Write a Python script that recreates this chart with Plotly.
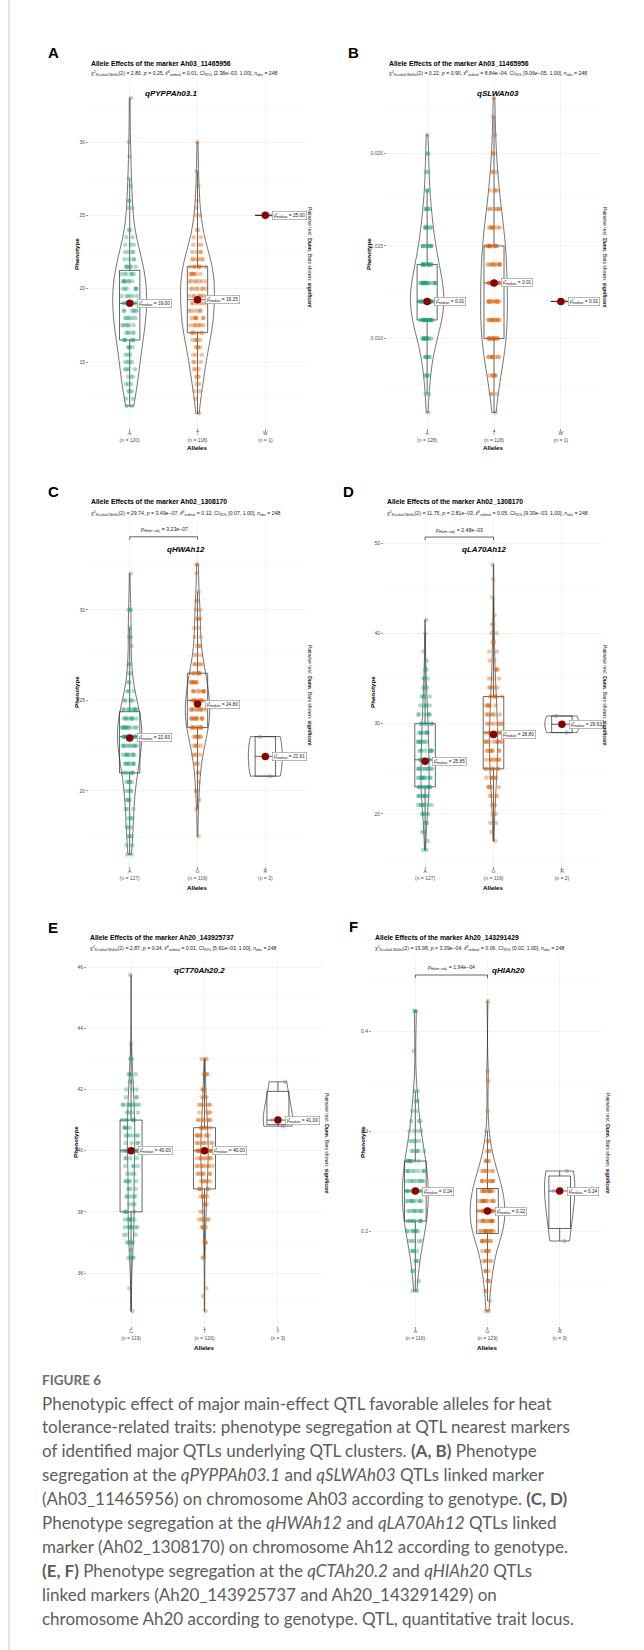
import numpy as np
import plotly.graph_objects as go

W, H = 644, 1650

# ---------------- data ----------------
# (A) qPYPPAh03.1, marker Ah03_11465956
pA_alleles = ["A", "T", "W"]
pA_n = [120, 118, 1]
pA_A_levels = [12, 12.5, 13, 13.5, 14, 14.5, 15, 15.5, 16, 16.5, 17, 17.5, 18, 18.5, 19, 19.5, 20, 20.5,
               21, 21.5, 22, 22.5, 23, 23.5, 24, 25.5, 26, 27, 27.5, 29, 30, 33]
pA_A_counts = [2, 2, 3, 3, 3, 4, 4, 3, 4, 6, 5, 6, 6, 6, 8, 6, 6, 7, 6, 6, 4, 4, 3, 2, 2, 2, 2, 1, 1, 1, 1, 1]
pA_T_levels = [11.5, 12.5, 13, 13.5, 14, 14.5, 15, 15.5, 16, 16.5, 17, 17.5, 18, 18.5, 19, 19.5, 20, 20.5,
               21, 21.5, 22, 22.5, 23, 23.5, 24, 25, 25.5, 26, 27, 28, 30]
pA_T_counts = [1, 1, 2, 2, 3, 3, 3, 3, 4, 5, 6, 7, 7, 6, 6, 7, 7, 7, 7, 7, 6, 4, 3, 2, 2, 2, 1, 1, 1, 1, 1]
pA_W_values = [25.0]
pA_medians = [19.00, 19.25, 25.00]

# (B) qSLWAh03, marker Ah03_11465956
pB_alleles = ["A", "T", "W"]
pB_n = [128, 118, 1]
pB_A_levels = [0.006, 0.007, 0.008, 0.009, 0.010, 0.011, 0.012, 0.013, 0.014, 0.015, 0.016, 0.017, 0.018,
               0.019, 0.020, 0.021]
pB_A_counts = [1, 2, 4, 6, 12, 18, 22, 19, 14, 10, 7, 5, 3, 2, 2, 1]
pB_T_levels = [0.006, 0.007, 0.008, 0.009, 0.010, 0.011, 0.012, 0.013, 0.014, 0.015, 0.016, 0.017, 0.018,
               0.019, 0.020, 0.021, 0.022, 0.023]
pB_T_counts = [1, 3, 6, 9, 13, 12, 12, 12, 11, 12, 8, 7, 4, 3, 2, 1, 1, 1]
pB_W_values = [0.012]
pB_medians = [0.012, 0.013, 0.012]

# (C) qHWAh12, marker Ah02_1308170
pC_alleles = ["A", "G", "R"]
pC_n = [127, 119, 2]
pC_A_levels = [16.5, 17, 17.5, 18, 18.5, 19, 19.5, 20, 20.5, 21, 21.5, 22, 22.5, 23, 23.5, 24, 24.5, 25,
               25.5, 26, 26.5, 27, 28, 28.5, 29, 30, 32]
pC_A_counts = [2, 2, 3, 3, 3, 3, 4, 4, 5, 6, 8, 9, 10, 12, 12, 9, 10, 5, 3, 2, 2, 2, 1, 2, 1, 3, 1]
pC_G_levels = [17.5, 19, 19.5, 20, 20.5, 21, 21.5, 22, 22.5, 23, 23.5, 24, 24.5, 25, 25.5, 26, 26.5, 27,
               27.5, 28, 28.5, 29, 29.5, 30, 30.5, 31, 32, 32.5]
pC_G_counts = [1, 1, 1, 2, 1, 2, 3, 4, 5, 7, 10, 11, 11, 10, 9, 8, 7, 5, 3, 3, 2, 2, 3, 2, 2, 1, 1, 2]
pC_R_values = [20.82, 23.0]
pC_medians = [22.93, 24.80, 21.91]
pC_bracket = dict(pair=("A", "G"), y=34.03, p="3.23e−07")

# (D) qLA70Ah12, marker Ah02_1308170
pD_alleles = ["A", "G", "R"]
pD_n = [127, 119, 2]
pD_A_levels = [16, 17, 18, 19, 20, 21, 22, 23, 24, 25, 26, 27, 28, 29, 30, 31, 32, 33, 34, 35, 36, 37, 38,
               40, 41.5]
pD_A_counts = [2, 1, 2, 3, 5, 8, 9, 10, 11, 10, 8, 8, 8, 8, 7, 6, 5, 4, 3, 3, 2, 1, 1, 1, 1]
pD_G_levels = [17, 18, 19, 20, 21, 22, 23, 24, 25, 26, 27, 28, 29, 30, 31, 32, 33, 34, 35, 36, 37, 38, 39,
               40, 41, 42, 44, 46, 47.6]
pD_G_counts = [1, 1, 2, 2, 3, 4, 5, 6, 8, 8, 8, 10, 9, 8, 7, 6, 6, 5, 3, 3, 2, 2, 2, 2, 2, 1, 1, 1, 1]
pD_R_values = [29.01, 30.85]
pD_medians = [25.85, 28.80, 29.93]
pD_bracket = dict(pair=("A", "G"), y=50.66, p="2.48e−03")

# (E) qCT70Ah20.2, marker Ah20_143925737
pE_alleles = ["C", "T", "Y"]
pE_n = [119, 126, 3]
pE_C_levels = [34.75, 35.5, 36.5, 36.75, 37, 37.25, 37.5, 37.75, 38, 38.25, 38.5, 38.75, 39, 39.25, 39.5,
               39.75, 40, 40.25, 40.5, 40.75, 41, 41.25, 41.5, 41.75, 42, 42.25, 42.5, 43, 43.5, 45.75]
pE_C_counts = [1, 1, 4, 1, 5, 3, 7, 6, 4, 3, 5, 3, 5, 3, 4, 4, 10, 4, 6, 5, 6, 4, 9, 3, 3, 2, 4, 2, 1, 1]
pE_T_levels = [34.75, 35.25, 35.5, 36.5, 37, 37.5, 37.75, 38, 38.25, 38.5, 38.75, 39, 39.25, 39.5, 39.75,
               40, 40.25, 40.5, 40.75, 41, 41.25, 41.5, 41.75, 42, 42.5, 43]
pE_T_counts = [1, 1, 1, 2, 3, 4, 5, 2, 3, 6, 5, 6, 7, 8, 8, 12, 8, 8, 6, 7, 4, 6, 3, 3, 4, 3]
pE_Y_values = [40.8, 41.0, 42.25]
pE_medians = [40.00, 40.00, 41.00]

# (F) qHIAh20, marker Ah20_143291429
pF_alleles = ["A", "G", "R"]
pF_n = [116, 129, 3]
pF_A_levels = [0.14, 0.15, 0.16, 0.17, 0.18, 0.19, 0.20, 0.21, 0.22, 0.23, 0.24, 0.25, 0.26, 0.27, 0.28,
               0.29, 0.30, 0.31, 0.32, 0.33, 0.34, 0.38, 0.42]
pF_A_counts = [2, 1, 2, 3, 4, 5, 8, 8, 9, 10, 10, 9, 9, 8, 6, 5, 4, 3, 2, 2, 2, 1, 3]
pF_G_levels = [0.12, 0.13, 0.14, 0.15, 0.16, 0.17, 0.18, 0.19, 0.20, 0.21, 0.22, 0.23, 0.24, 0.25, 0.26,
               0.27, 0.28, 0.29, 0.30, 0.32, 0.35, 0.36, 0.43]
pF_G_counts = [2, 1, 2, 3, 4, 5, 6, 9, 13, 13, 14, 13, 12, 10, 7, 5, 3, 2, 1, 1, 1, 1, 1]
pF_R_values = [0.19, 0.24, 0.26]
pF_medians = [0.24, 0.22, 0.24]
pF_bracket = dict(pair=("A", "G"), y=0.456, p="1.94e−04")

markers = {"A": "Ah03_11465956", "B": "Ah03_11465956", "C": "Ah02_1308170",
           "D": "Ah02_1308170", "E": "Ah20_143925737", "F": "Ah20_143291429"}
qtl_names = {"A": "qPYPPAh03.1", "B": "qSLWAh03", "C": "qHWAh12", "D": "qLA70Ah12",
             "E": "qCT70Ah20.2", "F": "qHIAh20"}
stats = {  # chi2, p, epsilon2, CI low, CI high
    "A": ("2.80", "0.25", "0.01", "2.38e−03", "1.00"),
    "B": ("0.22", "0.90", "8.84e−04", "9.06e−05", "1.00"),
    "C": ("29.74", "3.49e−07", "0.12", "0.07", "1.00"),
    "D": ("11.75", "2.81e−03", "0.05", "9.30e−03", "1.00"),
    "E": ("2.87", "0.24", "0.01", "5.61e−03", "1.00"),
    "F": ("15.98", "3.39e−04", "0.06", "0.02", "1.00"),
}
n_obs = 248

caption_lines = [
    "Phenotypic effect of major main-effect QTL favorable alleles for heat",
    "tolerance-related traits: phenotype segregation at QTL nearest markers",
    "of identified major QTLs underlying QTL clusters. <b>(A, B)</b> Phenotype",
    "segregation at the <i>qPYPPAh03.1</i> and <i>qSLWAh03</i> QTLs linked marker",
    "(Ah03_11465956) on chromosome Ah03 according to genotype. <b>(C, D)</b>",
    "Phenotype segregation at the <i>qHWAh12</i> and <i>qLA70Ah12</i> QTLs linked",
    "marker (Ah02_1308170) on chromosome Ah12 according to genotype.",
    "<b>(E, F)</b> Phenotype segregation at the <i>qCTAh20.2</i> and <i>qHIAh20</i> QTLs",
    "linked markers (Ah20_143925737 and Ah20_143291429) on",
    "chromosome Ah20 according to genotype. QTL, quantitative trait locus.",
]


def expand(levels, counts):
    return np.repeat(np.array(levels, dtype=float), counts)


groups = {
    "A": [expand(pA_A_levels, pA_A_counts), expand(pA_T_levels, pA_T_counts), np.array(pA_W_values)],
    "B": [expand(pB_A_levels, pB_A_counts), expand(pB_T_levels, pB_T_counts), np.array(pB_W_values)],
    "C": [expand(pC_A_levels, pC_A_counts), expand(pC_G_levels, pC_G_counts), np.array(pC_R_values)],
    "D": [expand(pD_A_levels, pD_A_counts), expand(pD_G_levels, pD_G_counts), np.array(pD_R_values)],
    "E": [expand(pE_C_levels, pE_C_counts), expand(pE_T_levels, pE_T_counts), np.array(pE_Y_values)],
    "F": [expand(pF_A_levels, pF_A_counts), expand(pF_G_levels, pF_G_counts), np.array(pF_R_values)],
}
alleles = {"A": pA_alleles, "B": pB_alleles, "C": pC_alleles, "D": pD_alleles, "E": pE_alleles, "F": pF_alleles}
ns = {"A": pA_n, "B": pB_n, "C": pC_n, "D": pD_n, "E": pE_n, "F": pF_n}
medians = {"A": pA_medians, "B": pB_medians, "C": pC_medians, "D": pD_medians, "E": pE_medians, "F": pF_medians}
brackets = {"C": pC_bracket, "D": pD_bracket, "F": pF_bracket}
for k in groups:
    assert [len(g) for g in groups[k]] == ns[k], (k, [len(g) for g in groups[k]])

# ---------------- layout geometry (pixels) ----------------
layout_px = {
    "A": dict(x=(89, 306), y=(80, 428), yr=(10.5, 34.23), dt=5, mn=2.5, fmt=None),
    "B": dict(x=(387, 601), y=(80, 428), yr=(0.00516, 0.02397), dt=0.005, mn=0.0025, fmt=".3f"),
    "C": dict(x=(89, 306), y=(521, 866), yr=(15.86, 34.9), dt=5, mn=2.5, fmt=None),
    "D": dict(x=(384, 603), y=(518, 866), yr=(14.24, 52.77), dt=10, mn=5, fmt=None),
    "E": dict(x=(87, 322), y=(957, 1326), yr=(34.27, 46.33), dt=2, mn=1, fmt=None),
    "F": dict(x=(372, 603), y=(957, 1326), yr=(0.105, 0.474), dt=0.1, mn=0.05, fmt=".1f"),
}
violin_w = {"A": [0.5, 0.5, 0], "B": [0.5, 0.4, 0], "C": [0.36, 0.36, 0.5],
            "D": [0.12, 0.12, 0.5], "E": [0.1, 0.1, 0.4], "F": [0.36, 0.48, 0.42]}
text_pos = {
    "A": dict(L=(53, 53), tx=89, ty=63, sy=74, q=(171, 93), ph=(76, 254), al=448, pw=(310, 257)),
    "B": dict(L=(353, 53), tx=387, ty=63, sy=74, q=(498, 93), ph=(368, 254), al=448, pw=(605, 257)),
    "C": dict(L=(53, 492), tx=89, ty=502, sy=513, q=(186, 549), ph=(76, 692), al=887, pw=(310, 695)),
    "D": dict(L=(348, 492), tx=385, ty=502, sy=513, q=(484, 549), ph=(372, 692), al=887, pw=(605, 695)),
    "E": dict(L=(53, 928), tx=88, ty=937, sy=948, q=(200, 970), ph=(75, 1142), al=1347, pw=(327, 1143)),
    "F": dict(L=(353, 927), tx=373, ty=937, sy=948, q=(508, 970), ph=(362, 1142), al=1347, pw=(608, 1143)),
}

pt_colors = ["rgba(27,158,119,0.36)", "rgba(217,95,2,0.36)", "rgba(117,112,179,0.36)"]
FONT = "Liberation Sans"


def fx(p):
    return p / W


def fy(p):
    return 1 - p / H


fig = go.Figure()
annotations = []
shapes = []


def ann(text, x, y, size, color="#000000", xanchor="center", yanchor="middle", angle=0, family=FONT, **kw):
    annotations.append(dict(text=text, x=fx(x), y=fy(y), xref="paper", yref="paper", showarrow=False,
                            xanchor=xanchor, yanchor=yanchor, textangle=angle,
                            font=dict(size=size, color=color, family=family), **kw))


for i, key in enumerate(["A", "B", "C", "D", "E", "F"], start=1):
    xa = "x" if i == 1 else f"x{i}"
    ya = "y" if i == 1 else f"y{i}"
    xk = "xaxis" if i == 1 else f"xaxis{i}"
    yk = "yaxis" if i == 1 else f"yaxis{i}"
    g = layout_px[key]
    cats = alleles[key]

    for j, (cat, vals) in enumerate(zip(cats, groups[key])):
        if len(vals) >= 2 and violin_w[key][j] > 0:
            fig.add_trace(go.Violin(
                x=[cat] * len(vals), y=vals, width=violin_w[key][j], points=False,
                spanmode="hard", scalemode="width", line=dict(color="#1a1a1a", width=0.6),
                fillcolor="rgba(255,255,255,0)", hoverinfo="skip", showlegend=False,
                xaxis=xa, yaxis=ya))
        fig.add_trace(go.Box(
            x=[cat] * len(vals), y=vals, width=0.3, boxpoints="all", jitter=0.85, pointpos=0,
            whiskerwidth=0, fillcolor="rgba(0,0,0,0)", line=dict(color="#262626", width=0.7),
            marker=dict(color=pt_colors[j], size=4.5), quartilemethod="linear",
            hoverinfo="skip", showlegend=False, xaxis=xa, yaxis=ya))

    fig.add_trace(go.Scatter(x=cats, y=medians[key], mode="markers",
                             marker=dict(color="#8B0000", size=7.5), hoverinfo="skip",
                             showlegend=False, xaxis=xa, yaxis=ya))
    for cat, m in zip(cats, medians[key]):
        annotations.append(dict(
            text=f"μ̂<sub>median</sub> = {m:.2f}", x=cat, y=m, xref=xa, yref=ya, showarrow=False,
            xanchor="left", yanchor="middle", xshift=7,
            font=dict(size=4.8, color="#222222", family=FONT),
            bgcolor="white", bordercolor="#8a8a8a", borderwidth=0.6, borderpad=1.1))

    if key in brackets:
        b = brackets[key]
        span = g["yr"][1] - g["yr"][0]
        d = span * 0.0086
        c0, c1 = b["pair"]
        fig.add_trace(go.Scatter(x=[c0, c0, c1, c1], y=[b["y"] - d, b["y"], b["y"], b["y"] - d],
                                 mode="lines", line=dict(color="#222222", width=0.7),
                                 hoverinfo="skip", showlegend=False, xaxis=xa, yaxis=ya))
        annotations.append(dict(
            text=f"<i>p</i><sub>Holm−adj.</sub> = {b['p']}", x=0.5, y=b["y"], xref=xa, yref=ya,
            showarrow=False, xanchor="center", yanchor="bottom", yshift=1.5,
            font=dict(size=5.2, color="#222222", family=FONT)))

    ticktext = [f"{c}<br>(n = {len(v)})" for c, v in zip(cats, groups[key])]
    fig.layout[xk] = dict(
        domain=[fx(g["x"][0]), fx(g["x"][1])], anchor=ya, type="category",
        categoryorder="array", categoryarray=cats, range=[-0.6, 2.6],
        tickvals=cats, ticktext=ticktext, ticks="outside", ticklen=2, tickwidth=0.5,
        tickcolor="#333333", tickfont=dict(size=5.0, color="#4D4D4D", family=FONT),
        ticklabelstandoff=-2,
        showgrid=True, gridcolor="#EBEBEB", gridwidth=0.6, zeroline=False, showline=False,
        fixedrange=True)
    ydict = dict(
        domain=[fy(g["y"][1]), fy(g["y"][0])], anchor=xa, range=list(g["yr"]),
        tickmode="linear", tick0=0, dtick=g["dt"], ticks="outside", ticklen=2, tickwidth=0.5,
        tickcolor="#333333", tickfont=dict(size=5.0, color="#4D4D4D", family=FONT),
        showgrid=True, gridcolor="#EBEBEB", gridwidth=0.6, zeroline=False, showline=False,
        minor=dict(tick0=0, dtick=g["mn"], showgrid=True, gridcolor="#F3F3F3", gridwidth=0.5, ticks=""),
        fixedrange=True)
    if g["fmt"]:
        ydict["tickformat"] = g["fmt"]
    fig.layout[yk] = ydict

    t = text_pos[key]
    ann(f"<b>{key}</b>", t["L"][0], t["L"][1], 15)
    ann(f"<b>Allele Effects of the marker {markers[key]}</b>", t["tx"], t["ty"], 6.8, xanchor="left")
    chi, p, eps, lo, hi = stats[key]
    sub = (f"χ<sup>2</sup><sub>Kruskal-Wallis</sub>(2) = {chi}, <i>p</i> = {p}, "
           f"ε̂<sup>2</sup><sub>ordinal</sub> = {eps}, CI<sub>95%</sub> [{lo}, {hi}], "
           f"<i>n</i><sub>obs</sub> = {n_obs}")
    ann(sub, t["tx"], t["sy"], 5.2, color="#222222", xanchor="left")
    ann(f"<b><i>{qtl_names[key]}</i></b>", t["q"][0], t["q"][1], 8)
    ann("<b>Phenotype</b>", t["ph"][0], t["ph"][1], 6.2, angle=-90)
    ann("<b>Alleles</b>", (g["x"][0] + g["x"][1]) / 2, t["al"], 6.2)
    ann("Pairwise test: <b>Dunn</b>, Bars shown: <b>significant</b>", t["pw"][0], t["pw"][1], 5,
        color="#222222", angle=90)

# caption
ann("<b>FIGURE 6</b>", 40, 1380, 13.5, color="#6b6b6b", xanchor="left", family="Lato")
for k, line in enumerate(caption_lines):
    ann(line, 40, 1403 + 23.9 * k, 17, color="#5c5c5c", xanchor="left", family="Lato")

# page border on the left
shapes.append(dict(type="line", xref="paper", yref="paper", x0=fx(9), x1=fx(9), y0=0, y1=1,
                   line=dict(color="#C8C8C8", width=1)))

fig.update_layout(
    width=W, height=H, autosize=False, margin=dict(l=0, r=0, t=0, b=0),
    paper_bgcolor="white", plot_bgcolor="white", showlegend=False,
    boxmode="overlay", violinmode="overlay",
    font=dict(family=FONT, color="#000000"),
    annotations=annotations, shapes=shapes,
)

fig.write_html("out.html", config={"displayModeBar": False, "staticPlot": True},
               post_script="document.body.style.margin='0';document.body.style.overflow='hidden';")
